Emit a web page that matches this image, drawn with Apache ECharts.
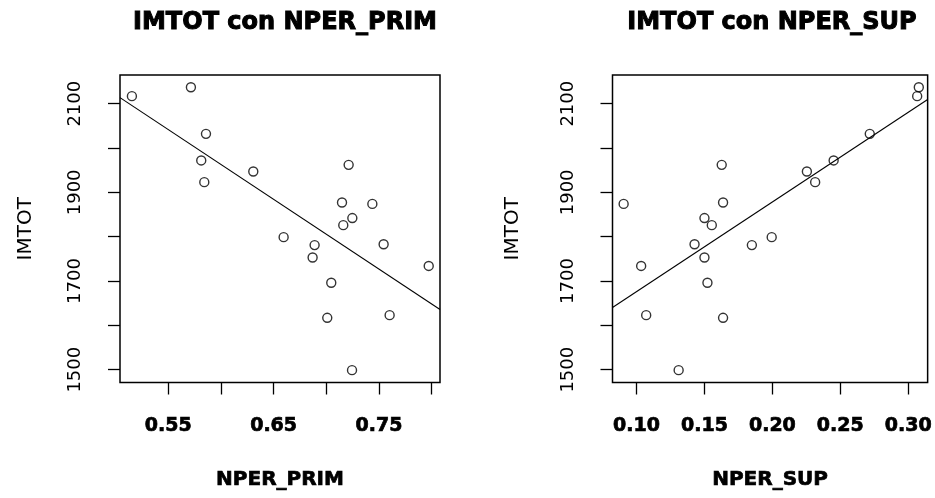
<!DOCTYPE html>
<html>
<head>
<meta charset="utf-8">
<script src="https://cdn.jsdelivr.net/npm/echarts@6/dist/echarts.min.js"></script>
<style>
  html, body { margin: 0; padding: 0; background: #fff; }
  #chart { width: 935px; height: 498px; }
</style>
</head>
<body>
<div id="chart"></div>
<script>
// data
var imtot = [2117, 2137, 2032, 1972, 1923, 1947, 1962, 1877, 1874, 1842,
             1826, 1799, 1781, 1753, 1783, 1734, 1696, 1617, 1623, 1499];
var nperPrim = [0.5155, 0.5715, 0.5858, 0.5813, 0.5842, 0.6307, 0.7212, 0.7149, 0.7437, 0.7247,
                0.7161, 0.6595, 0.6889, 0.6870, 0.7544, 0.7972, 0.7047, 0.7009, 0.7601, 0.7244];
var nperSup = [0.3066, 0.3078, 0.2717, 0.2451, 0.2315, 0.2254, 0.1627, 0.1637, 0.0905, 0.1500,
               0.1554, 0.1995, 0.1849, 0.1500, 0.1427, 0.1034, 0.1522, 0.1637, 0.1071, 0.1310];
// fitted lines (end points)
var fitPrim = [[0.5042, 2113.6], [0.8079, 1635.9]];
var fitSup = [[0.0823, 1640.2], [0.3143, 2109.4]];
// ticks and labels
var yTicks = [1500, 1600, 1700, 1800, 1900, 2000, 2100];
var yLabels = [1500, 1700, 1900, 2100];
var primTicks = [0.55, 0.60, 0.65, 0.70, 0.75, 0.80];
var primLabels = [0.55, 0.65, 0.75];
var supTicks = [0.10, 0.15, 0.20, 0.25, 0.30];
var supLabels = [0.10, 0.15, 0.20, 0.25, 0.30];

var myChart = echarts.init(document.getElementById("chart"));

function pairs(xs, ys) {
  return xs.map(function (x, i) { return [x, ys[i]]; });
}

var boldText = { fontFamily: "DejaVu Sans", fontWeight: "bold", color: "#000",
                 textBorderColor: "#000", textBorderWidth: 0.7 };

function xAxisOf(idx, name, min, max, ticks, labels) {
  return {
    type: "value",
    gridIndex: idx,
    min: min,
    max: max,
    name: name,
    nameLocation: "middle",
    nameGap: 87,
    nameTextStyle: Object.assign({ fontSize: 20 }, boldText),
    axisLine: { show: false, onZero: false },
    axisTick: { show: true, inside: false, length: 12, customValues: ticks,
                lineStyle: { color: "#000", width: 1.3 } },
    axisLabel: Object.assign({ show: true, customValues: labels, margin: 34, fontSize: 19,
                 formatter: function (v) { return v.toFixed(2); } }, boldText),
    splitLine: { show: false }
  };
}

function yAxisOf(idx, gap, margin) {
  return {
    type: "value",
    gridIndex: idx,
    min: 1471.1,
    max: 2164.7,
    name: "IMTOT",
    nameLocation: "middle",
    nameGap: gap,
    nameTextStyle: { fontFamily: "DejaVu Sans", fontSize: 20, color: "#000" },
    axisLine: { show: false, onZero: false },
    axisTick: { show: true, inside: false, length: 12, customValues: yTicks,
                lineStyle: { color: "#000", width: 1.3 } },
    axisLabel: { show: true, rotate: 90, customValues: yLabels, margin: margin,
                 fontFamily: "DejaVu Sans", fontSize: 18, color: "#000",
                 formatter: function (v) { return String(v); } },
    splitLine: { show: false }
  };
}

var pointStyle = { color: "rgba(0,0,0,0)", borderColor: "#000", borderWidth: 1.4 };

var option = {
  animation: false,
  backgroundColor: "#fff",
  title: [
    { text: "IMTOT con NPER_PRIM", left: 280, top: 6, textAlign: "center",
      textStyle: Object.assign({ fontSize: 24 }, boldText, { textBorderWidth: 1 }) },
    { text: "IMTOT con NPER_SUP", left: 767, top: 6, textAlign: "center",
      textStyle: Object.assign({ fontSize: 24 }, boldText, { textBorderWidth: 1 }) }
  ],
  grid: [
    { left: 120, top: 75, width: 320, height: 307.5, show: true,
      borderColor: "#000", borderWidth: 1.5, backgroundColor: "transparent" },
    { left: 612.5, top: 75, width: 317, height: 307.5, show: true,
      borderColor: "#000", borderWidth: 1.5, backgroundColor: "transparent" }
  ],
  xAxis: [
    xAxisOf(0, "NPER_PRIM", 0.5042, 0.8079, primTicks, primLabels),
    xAxisOf(1, "NPER_SUP", 0.0823, 0.3143, supTicks, supLabels)
  ],
  yAxis: [
    yAxisOf(0, 84, 36),
    yAxisOf(1, 90, 35)
  ],
  series: [
    { type: "scatter", xAxisIndex: 0, yAxisIndex: 0, symbol: "circle", symbolSize: 9,
      itemStyle: pointStyle, data: pairs(nperPrim, imtot) },
    { type: "line", xAxisIndex: 0, yAxisIndex: 0, showSymbol: false, clip: true,
      lineStyle: { color: "#000", width: 1.1 }, data: fitPrim },
    { type: "scatter", xAxisIndex: 1, yAxisIndex: 1, symbol: "circle", symbolSize: 9,
      itemStyle: pointStyle, data: pairs(nperSup, imtot) },
    { type: "line", xAxisIndex: 1, yAxisIndex: 1, showSymbol: false, clip: true,
      lineStyle: { color: "#000", width: 1.1 }, data: fitSup }
  ]
};
myChart.setOption(option);
</script>
</body>
</html>
